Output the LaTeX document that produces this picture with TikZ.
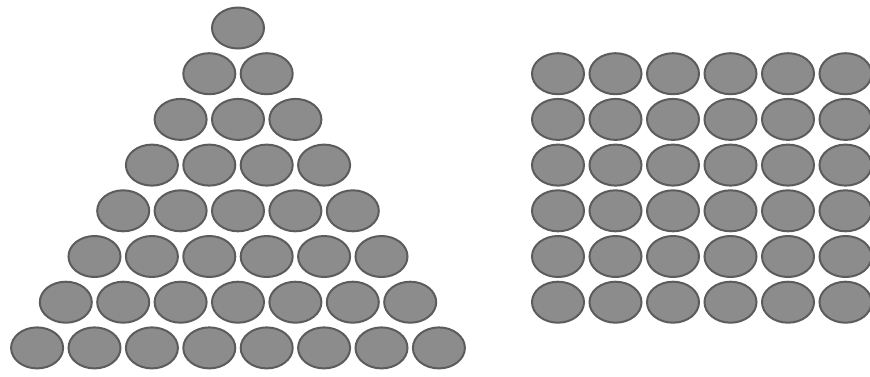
\documentclass[tikz,border=0pt]{standalone}
\usepackage{xcolor}
\usepackage{tikz}
\usetikzlibrary{shapes.geometric}

\definecolor{beadfill}{RGB}{140,140,140}
\definecolor{beadedge}{RGB}{92,92,92}

\begin{document}
\begin{tikzpicture}[
  x=0.3mm, y=-0.3mm,
  bead/.style={ellipse, draw=beadedge, fill=beadfill, line width=0.6mm,
               minimum width=15.6mm, minimum height=12.3mm, inner sep=0pt},
]
\useasboundingbox (0,0) rectangle (870,376);
\clip (0,0) rectangle (870,376);
% triangle: row r holds r beads
\foreach \r in {1,...,8} {
  \foreach \c in {1,...,\r} {
    \pgfmathsetmacro{\bx}{238 + (\c - (\r+1)/2)*57.4}
    \pgfmathsetmacro{\by}{28 + (\r-1)*45.7}
    \node[bead] (tri-\r-\c) at (\bx,\by) {};
  }
}
% square: 6 by 6
\foreach \r in {1,...,6} {
  \foreach \c in {1,...,6} {
    \pgfmathsetmacro{\bx}{558 + (\c-1)*57.5}
    \pgfmathsetmacro{\by}{73.7 + (\r-1)*45.7}
    \node[bead] (sq-\r-\c) at (\bx,\by) {};
  }
}
\end{tikzpicture}
\end{document}
